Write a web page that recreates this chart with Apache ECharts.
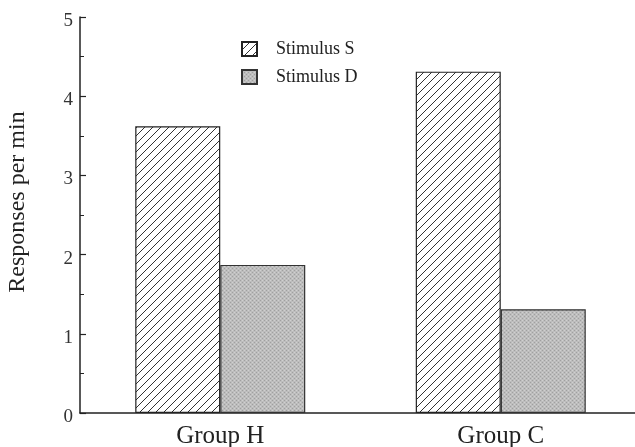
<!DOCTYPE html>
<html><head><meta charset="utf-8">
<script src="https://cdn.jsdelivr.net/npm/echarts@6/dist/echarts.min.js"></script>
<style>html,body{margin:0;padding:0;background:#fff}#c{width:635px;height:447px}</style>
</head><body><div id="c"></div>
<script>
const categories = ['Group H', 'Group C'];
const stimulusS = [3.62, 4.31];
const stimulusD = [1.87, 1.31];
const seriesNames = ['Stimulus S', 'Stimulus D'];
const yTicks = [0, 1, 2, 3, 4, 5];

function hatch() {
  const c = document.createElement('canvas');
  c.width = 8; c.height = 8;
  const g = c.getContext('2d');
  g.fillStyle = '#fff'; g.fillRect(0, 0, 8, 8);
  g.strokeStyle = '#333'; g.lineWidth = 1;
  g.beginPath();
  g.moveTo(-1, 9); g.lineTo(9, -1);
  g.moveTo(-1, 1); g.lineTo(1, -1);
  g.moveTo(7, 9); g.lineTo(9, 7);
  g.stroke();
  return c;
}
function stipple() {
  const c = document.createElement('canvas');
  c.width = 4; c.height = 4;
  const g = c.getContext('2d');
  g.fillStyle = '#bdbdbd'; g.fillRect(0, 0, 4, 4);
  g.fillStyle = '#a0a0a0';
  g.fillRect(0, 0, 1, 1); g.fillRect(2, 2, 1, 1);
  g.fillStyle = '#d0d0d0';
  g.fillRect(2, 0, 1, 1); g.fillRect(0, 2, 1, 1);
  return c;
}
const font = 'Liberation Serif';
const chart = echarts.init(document.getElementById('c'));
chart.setOption({
  animation: false,
  backgroundColor: '#fff',
  grid: { left: 80, top: 17, width: 561, height: 396, containLabel: false, outerBoundsMode: 'none' },
  legend: {
    left: 236, top: 35, orient: 'vertical', itemWidth: 15, itemHeight: 14, itemGap: 10,
    icon: 'rect',
    textStyle: { fontFamily: font, fontSize: 18, color: '#222', padding: [0, 0, 0, 14] },
    data: seriesNames
  },
  xAxis: {
    type: 'category', data: categories,
    axisLine: { lineStyle: { color: '#222', width: 1.5 } },
    axisTick: { show: false },
    axisLabel: { fontFamily: font, fontSize: 25, color: '#222', margin: 11 }
  },
  yAxis: {
    type: 'value', min: 0, max: 5, interval: 1,
    name: 'Responses per min', nameLocation: 'middle', nameGap: 50,
    nameTextStyle: { fontFamily: font, fontSize: 24, color: '#222', padding: [0, 0, 0, 26] },
    axisLine: { show: true, lineStyle: { color: '#222', width: 1.5 } },
    axisTick: { show: true, inside: true, length: 6, lineStyle: { color: '#222', width: 1.2 } },
    minorTick: { show: true, splitNumber: 2, length: 4, lineStyle: { color: '#222' } },
    splitLine: { show: false },
    axisLabel: { fontFamily: font, fontSize: 19, color: '#333', margin: 7,
      verticalAlign: 'top', lineHeight: 8,
      formatter: v => yTicks.includes(v) ? String(v) : '' }
  },
  series: [
    { name: seriesNames[0], type: 'bar', data: stimulusS, barWidth: 85, barGap: '0%',
      itemStyle: { color: { image: hatch(), repeat: 'repeat' }, borderColor: '#222', borderWidth: 1.2 } },
    { name: seriesNames[1], type: 'bar', data: stimulusD, barWidth: 85,
      itemStyle: { color: { image: stipple(), repeat: 'repeat' }, borderColor: '#333', borderWidth: 1.2 } }
  ]
});
</script></body></html>
